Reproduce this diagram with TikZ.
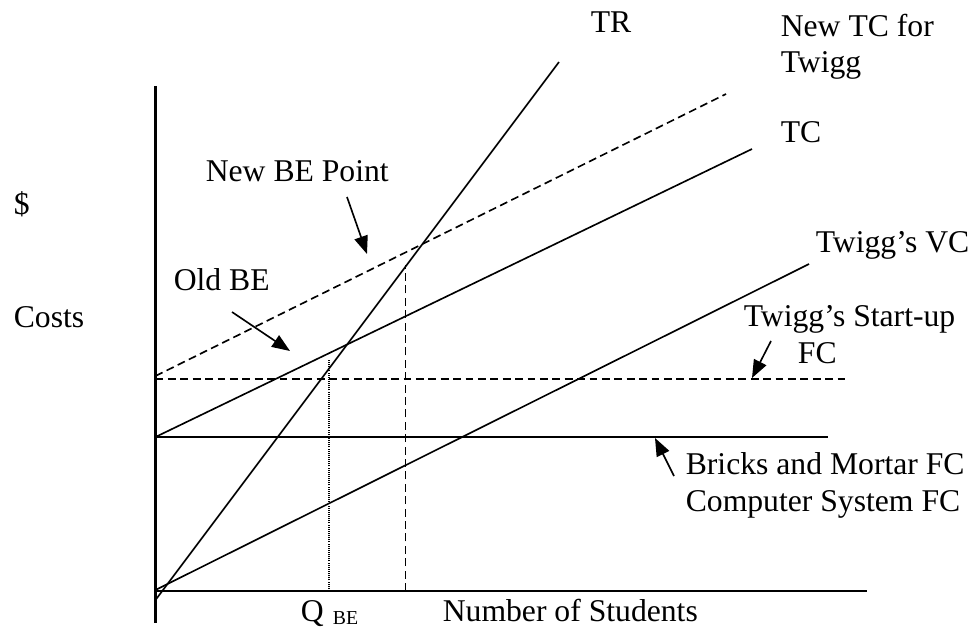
\documentclass[tikz,border=0pt]{standalone}
\usepackage{fontspec}
\setmainfont{Liberation Serif}
\usetikzlibrary{arrows.meta}
\begin{document}
\begin{tikzpicture}[x=0.379pt, y=-0.379pt, line width=0.62pt,
    lbl/.style={inner sep=0pt, font=\fontsize{12}{13.8}\selectfont},
    pointer/.style={-{Triangle[length=6.8pt,width=5.2pt]}},
    costdash/.style={dash pattern=on 3pt off 1.7pt}]
    \useasboundingbox (0,0) rectangle (977,628);

    \def\xO{155.5}    % x-coordinate of the cost axis
    \def\yO{591}      % y-coordinate of the quantity axis
    \def\yFC{437}     % bricks and mortar fixed cost
    \def\yNewFC{379}  % fixed cost with Twigg's start-up
    \def\xQold{329}   % old break-even quantity
    \def\xQnew{405.5} % new break-even quantity

    % Axes
    \coordinate (yTop) at (\xO, 86);
    \coordinate (yBot) at (\xO, 623);
    \coordinate (xEnd) at (867, \yO);
    \draw[line width=0.8pt] (yTop) -- (yBot);
    \draw[line width=0.8pt] (\xO, \yO) -- (xEnd);

    % Cost and revenue lines
    \draw (\xO, 600) -- (559, 62);                 % TR
    \draw (\xO, \yFC) -- (752, 149);               % TC
    \draw[costdash] (\xO, 376) -- (726, 94);       % new TC
    \draw (\xO, 590) -- (809, 264);                % VC
    \draw (\xO, \yFC) -- (828, \yFC);              % bricks FC
    \draw[costdash] (\xO, \yNewFC) -- (848, \yNewFC); % start-up FC

    \draw[line width=0.5pt, dash pattern=on 0.4pt off 0.4pt] (\xQold, \yO) -- (\xQold, 359);
    \draw[costdash] (\xQnew, \yO) -- (\xQnew, 265);

    % Labels
    \node[lbl, anchor=base west] (tr) at (590, 33) {TR};
    \node[lbl, anchor=north west, align=left] (newtc) at (780, 13) {New TC for\\Twigg};
    \node[lbl, anchor=base west] (tc) at (780, 143) {TC};
    \node[lbl, anchor=base west] (newbe) at (205, 182) {New BE Point};
    \node[lbl, anchor=base west] (dollar) at (13, 215) {\$};
    \node[lbl, anchor=base west] (oldbe) at (173, 291) {Old BE};
    \node[lbl, anchor=base west] (costs) at (13, 328) {Costs};
    \node[lbl, anchor=base west] (vc) at (815, 253) {Twigg's VC};
    \node[lbl, anchor=north west, align=left] (startfc) at (743, 305)
        {Twigg's Start-up\\\hspace*{20.5pt}FC};
    \node[lbl, anchor=north west, align=left] (brickfc) at (685, 452)
        {Bricks and Mortar FC\\Computer System FC};
    \node[lbl, anchor=base west] (qbe) at (300, 621)
        {Q\hspace{3.5pt}\raisebox{-1.5pt}{\fontsize{7.5}{9}\selectfont BE}};
    \node[lbl, anchor=base west] (students) at (442, 621) {Number of Students};

    % Pointers
    \coordinate (newbeTail) at (347, 197);
    \coordinate (newbeTip) at (367, 254);
    \coordinate (oldbeTail) at (232, 312);
    \coordinate (oldbeTip) at (290, 351);
    \coordinate (startTail) at (771, 341);
    \coordinate (startTip) at (752, 378);
    \coordinate (brickTail) at (674, 476);
    \coordinate (brickTip) at (655, 438);

    \draw[pointer] (newbeTail) -- (newbeTip);
    \draw[pointer] (oldbeTail) -- (oldbeTip);
    \draw[pointer] (startTail) -- (startTip);
    \draw[pointer] (brickTail) -- (brickTip);
\end{tikzpicture}
\end{document}
